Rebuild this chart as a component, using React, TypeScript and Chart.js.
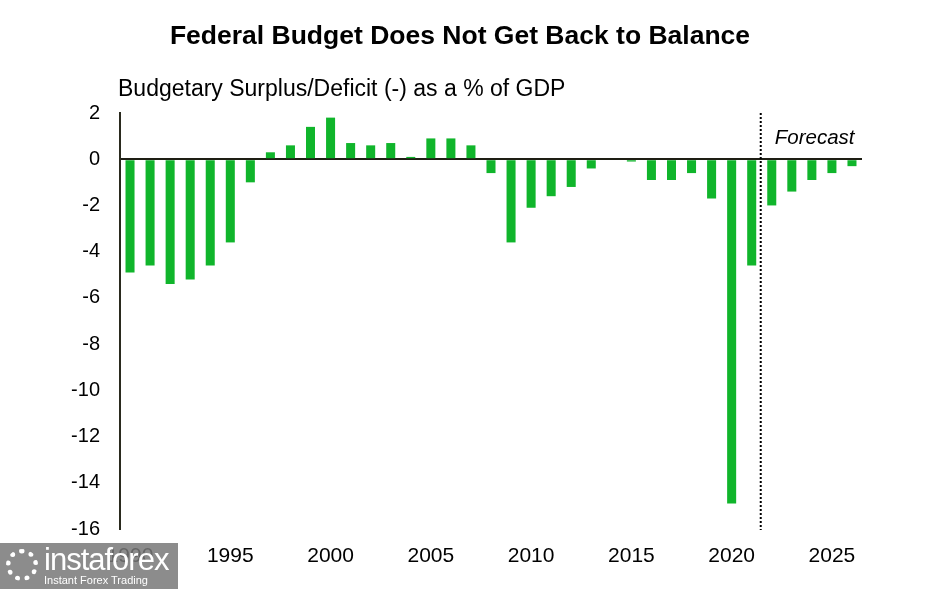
import React, { useEffect, useRef } from "react";
import { Chart, registerables } from "chart.js";

Chart.register(...registerables);

const years: number[] = [];
for (let y = 1990; y <= 2026; y++) years.push(y);
const categories = years.map(String);

const deficitValues = [
  -4.9, -4.6, -5.4, -5.2, -4.6, -3.6, -1.0, 0.3, 0.6, 1.4,
  1.8, 0.7, 0.6, 0.7, 0.1, 0.9, 0.9, 0.6, -0.6, -3.6,
  -2.1, -1.6, -1.2, -0.4, 0.0, -0.1, -0.9, -0.9, -0.6, -1.7,
  -14.9, -4.6, -2.0, -1.4, -0.9, -0.6, -0.3,
];

const titleText = "Federal Budget Does Not Get Back to Balance";
const subtitleText = "Budgetary Surplus/Deficit (-) as a % of GDP";
const forecastLabel = "Forecast";
const forecastStartIndex = 32; // 2022
const FONT = "Arial, 'Liberation Sans', sans-serif";

const overlayPlugin = {
  id: "overlay",
  afterDraw(chart: any) {
    const { ctx, chartArea } = chart;
    const xs = chart.scales.x;
    ctx.save();
    // title
    ctx.fillStyle = "#000";
    ctx.font = `bold 26.5px ${FONT}`;
    ctx.textAlign = "center";
    ctx.textBaseline = "middle";
    ctx.fillText(titleText, 460, 37);
    // subtitle
    ctx.font = `23px ${FONT}`;
    ctx.textAlign = "left";
    ctx.fillText(subtitleText, 118, 90);
    // dotted forecast line
    const xLine =
      (xs.getPixelForValue(forecastStartIndex - 1) + xs.getPixelForValue(forecastStartIndex)) / 2 - 1;
    ctx.strokeStyle = "#000";
    ctx.lineWidth = 2;
    ctx.setLineDash([2, 2]);
    ctx.beginPath();
    ctx.moveTo(xLine, chartArea.top);
    ctx.lineTo(xLine, chartArea.bottom + 1);
    ctx.stroke();
    ctx.setLineDash([]);
    // forecast label
    ctx.font = `italic 20.5px ${FONT}`;
    ctx.textBaseline = "middle";
    ctx.fillText(forecastLabel, xLine + 14, chartArea.top + 25);
    ctx.restore();
  },
};

export default function App() {
  const canvasRef = useRef<HTMLCanvasElement | null>(null);

  useEffect(() => {
    if (!canvasRef.current) return;
    const chart = new Chart(canvasRef.current, {
      type: "bar",
      data: {
        labels: categories,
        datasets: [
          {
            data: deficitValues,
            backgroundColor: "#10b52b",
            borderWidth: 0,
            barPercentage: 0.45,
            categoryPercentage: 1,
          },
        ],
      },
      options: {
        responsive: false,
        animation: false,
        layout: { padding: { top: 113, right: 83, bottom: 0, left: 0 } },
        plugins: {
          legend: { display: false },
          tooltip: { enabled: false },
          title: { display: false },
        },
        scales: {
          x: {
            grid: { display: false, drawTicks: false },
            border: { display: false },
            ticks: {
              autoSkip: false,
              maxRotation: 0,
              padding: 15,
              color: "#000",
              font: { family: FONT, size: 21 },
              callback: (_v: any, i: number) => (years[i] % 5 === 0 ? String(years[i]) : ""),
            },
            afterFit: (s: any) => {
              s.height = 60;
            },
          },
          y: {
            min: -16,
            max: 2,
            ticks: {
              stepSize: 2,
              padding: 20,
              color: "#000",
              font: { family: FONT, size: 20 },
            },
            grid: {
              drawTicks: false,
              lineWidth: 2,
              color: (c: any) => (c.tick && c.tick.value === 0 ? "#1e1e14" : "rgba(0,0,0,0)"),
            },
            border: { display: true, color: "#2a2a1e", width: 2 },
            afterFit: (s: any) => {
              s.width = 120;
            },
          },
        },
      },
      plugins: [overlayPlugin],
    });
    return () => chart.destroy();
  }, []);

  return (
    <div style={{ position: "fixed", left: 0, top: 0, width: 945, height: 589, background: "#fff" }}>
      <canvas ref={canvasRef} width={945} height={589} style={{ display: "block" }} />
      <div
        style={{
          position: "absolute",
          left: 0,
          top: 543,
          width: 178,
          height: 46,
          background: "rgba(120,120,120,0.85)",
          color: "#fff",
          fontFamily: FONT,
          overflow: "hidden",
        }}
      >
        <div style={{ position: "absolute", left: 44, top: 0, fontSize: 31, lineHeight: "34px", letterSpacing: -1 }}>
          instaforex
        </div>
        <div style={{ position: "absolute", left: 44, top: 30, fontSize: 11, lineHeight: "14px" }}>
          Instant Forex Trading
        </div>
        <div
          style={{
            position: "absolute",
            left: 6,
            top: 6,
            width: 32,
            height: 32,
            borderRadius: 16,
            border: "5px dotted #fff",
            boxSizing: "border-box",
          }}
        />
      </div>
    </div>
  );
}
